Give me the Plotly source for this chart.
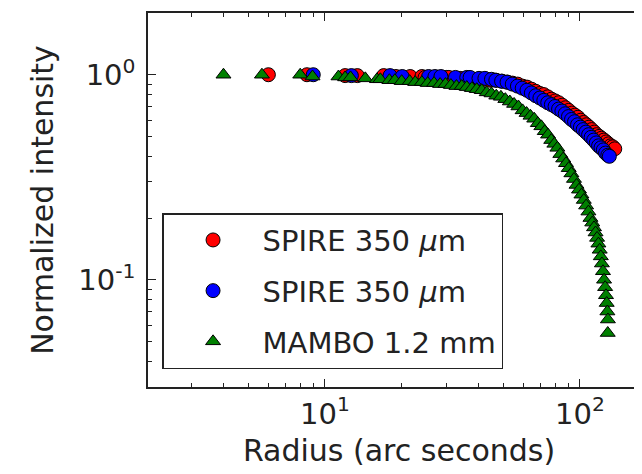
import plotly.graph_objects as go

# SPIRE 350 um (red)
red_r = [6.0, 8.5, 12.0, 13.4, 17.0, 18.0, 19.0, 21.6, 24.0, 24.7, 26.8, 30.0, 30.6, 33.9, 36.0, 37.1,
         40.2, 42.4, 44.5, 46.9, 49.5, 52.0, 54.4, 57.0, 59.5, 62.0, 64.6, 67.1, 69.7, 72.2, 74.8, 77.4,
         80.0, 82.6, 85.2, 87.8, 90.4, 93.0, 95.6, 98.2, 100.8, 103.4, 106.0, 108.6, 111.2, 113.8, 116.4,
         119.0, 121.6, 124.2, 126.8, 129.4, 132.0, 134.6, 137.0]
red_i = [1.00, 1.00, 0.99, 0.99, 0.99, 0.98, 0.98, 0.98, 0.98, 0.97, 0.97, 0.97, 0.97, 0.96, 0.96, 0.96,
         0.95, 0.95, 0.94, 0.94, 0.93, 0.92, 0.91, 0.90, 0.88, 0.87, 0.85, 0.83, 0.81, 0.80, 0.78, 0.76,
         0.745, 0.73, 0.71, 0.69, 0.67, 0.65, 0.635, 0.62, 0.60, 0.585, 0.57, 0.555, 0.54, 0.525, 0.51,
         0.50, 0.49, 0.48, 0.47, 0.46, 0.45, 0.445, 0.435]

# SPIRE 350 um (blue)
blue_r = [9.0, 12.7, 18.0, 20.1, 25.5, 27.0, 28.5, 32.5, 36.0, 37.1, 40.2, 42.4, 45.0, 46.8, 49.3, 51.8,
          54.3, 56.9, 59.4, 62.0, 64.5, 67.1, 69.7, 72.2, 74.8, 77.3, 79.9, 82.5, 85.0, 87.6, 90.2, 92.7,
          95.3, 97.9, 100.5, 103.0, 105.6, 108.2, 110.7, 113.3, 115.9, 118.4, 121.0, 123.6, 126.1, 128.7, 130.5]
blue_i = [1.00, 0.99, 0.99, 0.98, 0.98, 0.98, 0.98, 0.97, 0.97, 0.97, 0.96, 0.96, 0.95, 0.94, 0.93, 0.92,
          0.90, 0.88, 0.86, 0.84, 0.815, 0.79, 0.77, 0.75, 0.73, 0.715, 0.70, 0.68, 0.665, 0.645, 0.625, 0.605,
          0.59, 0.57, 0.555, 0.54, 0.525, 0.51, 0.495, 0.48, 0.465, 0.45, 0.44, 0.43, 0.415, 0.405, 0.40]

# MAMBO 1.2 mm (green)
green_r = [4.0, 5.66, 8.0, 8.94, 11.3, 12.0, 12.6, 14.4, 16.0, 16.5, 17.9, 18.8, 20.0, 21.5, 22.6, 24.0,
           25.3, 26.8, 28.3, 29.7, 31.2, 32.8, 34.4, 36.0, 37.7, 39.4, 41.2, 43.1, 45.0, 47.0, 49.0, 51.0,
           53.1, 55.2, 57.4, 59.6, 61.8, 64.0, 66.2, 68.4, 70.6, 72.8, 75.0, 77.2, 79.4, 81.6, 83.8, 86.0,
           88.2, 90.4, 92.6, 94.8, 97.0, 99.2, 101.4, 103.6, 105.8, 108.0, 110.0, 111.8, 113.6, 115.2, 116.8,
           118.2, 119.6, 120.8, 122.0, 123.2, 124.4, 125.6, 126.6, 127.4, 128.2, 128.8, 128.6]
green_i = [1.00, 1.00, 1.00, 0.98, 0.98, 0.97, 0.97, 0.96, 0.95, 0.95, 0.94, 0.94, 0.93, 0.93, 0.92, 0.92,
           0.91, 0.91, 0.90, 0.90, 0.89, 0.88, 0.88, 0.87, 0.86, 0.85, 0.84, 0.82, 0.81, 0.79, 0.78, 0.76,
           0.74, 0.72, 0.70, 0.67, 0.65, 0.63, 0.61, 0.58, 0.56, 0.53, 0.51, 0.48, 0.46, 0.44, 0.41, 0.39,
           0.37, 0.35, 0.33, 0.31, 0.29, 0.275, 0.26, 0.245, 0.23, 0.215, 0.20, 0.19, 0.18, 0.17, 0.16,
           0.15, 0.14, 0.13, 0.12, 0.11, 0.10, 0.092, 0.084, 0.077, 0.07, 0.064, 0.055]

series_names = ["SPIRE 350 <i>μ</i>m", "SPIRE 350 <i>μ</i>m", "MAMBO 1.2 mm"]

x_tickvals = [10, 100]
x_ticktext = ["10<sup>1</sup>", "10<sup>2</sup>"]
y_tickvals = [0.1, 1]
y_ticktext = ["10<sup>-1</sup>", "10<sup>0</sup>"]

FONT = "DejaVu Sans"
TXT = "#222222"
fig = go.Figure()

fig.add_trace(go.Scatter(x=red_r, y=red_i, mode="markers", name=series_names[0], legendgroup="a",
                         marker=dict(symbol="circle", size=14, color="#ff0000",
                                     line=dict(color="black", width=1))))
fig.add_trace(go.Scatter(x=blue_r, y=blue_i, mode="markers", name=series_names[1], legendgroup="b",
                         marker=dict(symbol="circle", size=14, color="#0000ff",
                                     line=dict(color="black", width=1))))
fig.add_trace(go.Scatter(x=green_r, y=green_i, mode="markers", name=series_names[2], legendgroup="c",
                         marker=dict(symbol="triangle-up", size=13, color="#008000",
                                     line=dict(color="black", width=1))))

minor_x = [3, 4, 5, 6, 7, 8, 9, 20, 30, 40, 50, 60, 70, 80, 90, 200]
minor_y = [0.03, 0.04, 0.05, 0.06, 0.07, 0.08, 0.09, 0.2, 0.3, 0.4, 0.5, 0.6, 0.7, 0.8, 0.9, 2]

fig.update_layout(
    width=642, height=474,
    margin=dict(l=140, r=0, t=5, b=95),
    paper_bgcolor="white", plot_bgcolor="white",
    font=dict(family=FONT, color=TXT),
    showlegend=True,
    legend=dict(x=0.028, y=0.465, xanchor="left", yanchor="top",
                bordercolor=TXT, borderwidth=1.5, bgcolor="white",
                font=dict(family=FONT, size=29, color=TXT),
                traceorder="grouped", tracegroupgap=10, itemwidth=89),
    xaxis=dict(type="log", range=[0.306, 2.275], showgrid=False, zeroline=False, automargin=False,
               showline=True, linecolor=TXT, linewidth=1.5, mirror="ticks",
               ticks="inside", ticklen=8, tickwidth=1, tickcolor=TXT,
               tickvals=x_tickvals, ticktext=x_ticktext,
               tickfont=dict(family=FONT, size=29, color=TXT),
               minor=dict(tickvals=minor_x, ticks="inside", ticklen=4, tickwidth=1, tickcolor=TXT),
               title=dict(text="Radius (arc seconds)", font=dict(family=FONT, size=30, color=TXT),
                          standoff=10)),
    yaxis=dict(type="log", range=[-1.523, 0.301], showgrid=False, zeroline=False, automargin=False,
               showline=True, linecolor=TXT, linewidth=1.5, mirror=False,
               ticks="inside", ticklen=8, tickwidth=1, tickcolor=TXT,
               tickvals=y_tickvals, ticktext=y_ticktext, ticklabelstandoff=5,
               tickfont=dict(family=FONT, size=29, color=TXT),
               minor=dict(tickvals=minor_y, ticks="inside", ticklen=4, tickwidth=1, tickcolor=TXT),
               title=dict(text="Normalized intensity", font=dict(family=FONT, size=30, color=TXT),
                          standoff=16)),
)

fig.write_html("out.html")
